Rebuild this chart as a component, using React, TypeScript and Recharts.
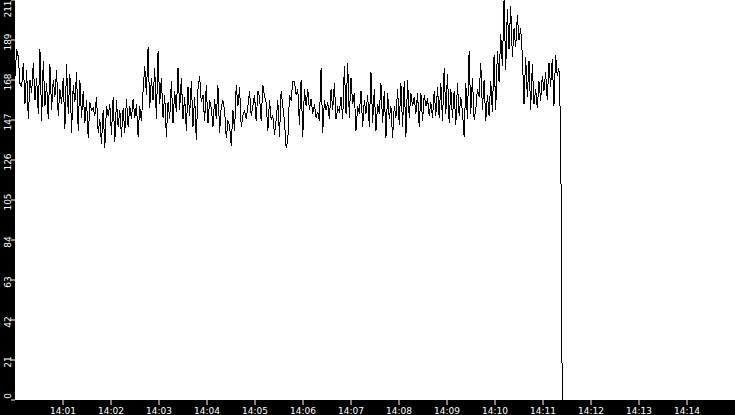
import React from 'react';
import { LineChart, Line, XAxis, YAxis, CartesianGrid } from 'recharts';

// samples, grouped by stretches of roughly two minutes
const trace1400 = [
  171, 185, 181, 167, 165, 178, 156, 174, 148, 169, 162, 178, 158, 170, 151, 185,
  147, 179, 155, 167, 148, 177, 153, 169, 160, 174, 150, 164, 156, 170, 143, 177,
  151, 172, 141, 166, 157, 173, 142, 169, 149, 163, 146, 158, 138, 157, 153, 154,
  150, 160, 141, 148, 135, 153, 133, 155,
];
const trace1402 = [
  150, 156, 140, 160, 136, 158, 144, 153, 139, 154, 141, 159, 144, 155, 148, 159,
  149, 156, 139, 155, 147, 163, 176, 161, 186, 154, 170, 158, 175, 148, 184, 156,
  170, 149, 161, 139, 157, 148, 168, 146, 163, 152, 175, 153, 170, 148, 160, 142,
  165, 150, 168, 144, 160, 137, 164, 171,
];
const trace1404 = [
  157, 161, 147, 166, 146, 158, 154, 144, 159, 148, 166, 141, 155, 158, 153, 138,
  147, 145, 134, 153, 142, 166, 155, 165, 144, 150, 153, 148, 155, 163, 150, 155,
  161, 147, 163, 160, 147, 166, 160, 157, 142, 158, 148, 150, 140, 148, 158, 139,
  163, 155, 147, 133, 137, 161, 158, 168,
];
const trace1406 = [
  168, 161, 164, 145, 169, 139, 164, 155, 164, 153, 159, 151, 156, 149, 152, 147,
  175, 141, 158, 153, 157, 148, 164, 153, 167, 148, 154, 152, 160, 148, 176, 151,
  178, 149, 170, 156, 162, 142, 155, 151, 163, 144, 158, 151, 161, 144, 173, 146,
  164, 142, 156, 151, 167, 146, 163, 138,
];
const trace1408 = [
  162, 148, 155, 138, 155, 149, 164, 145, 167, 144, 168, 139, 169, 149, 162, 155,
  160, 151, 162, 144, 162, 147, 161, 155, 159, 150, 157, 149, 163, 150, 165, 149,
  167, 147, 175, 151, 172, 146, 164, 149, 163, 145, 167, 150, 160, 152, 139, 167,
  148, 184, 151, 170, 148, 153, 164, 160,
];
const trace1410 = [
  178, 153, 169, 147, 161, 150, 168, 152, 182, 153, 184, 168, 193, 176, 211, 174,
  206, 185, 208, 181, 196, 186, 203, 190, 196, 182, 156, 181, 160, 179, 153, 177,
  156, 164, 154, 168, 158, 171, 163, 173, 158, 178, 165, 180, 155, 182, 171, 175,
  144,
];
const traceValues = [...trace1400, ...trace1402, ...trace1404, ...trace1406, ...trace1408, ...trace1410];

// seconds after 14:00 covered by the trace, then the drop to zero
const traceEndSec = 682;
const dropSec = [683, 684];
const dropValues = [86, 0];

const xTicks = [60, 120, 180, 240, 300, 360, 420, 480, 540, 600, 660, 720, 780, 840];
const xLabels = ['14:01', '14:02', '14:03', '14:04', '14:05', '14:06', '14:07', '14:08', '14:09', '14:10', '14:11', '14:12', '14:13', '14:14'];
const yTicks = [0, 21.1, 42.2, 63.3, 84.4, 105.5, 126.6, 147.7, 168.8, 189.9, 211];

const step = traceEndSec / (traceValues.length - 1);
const rows = [
  ...traceValues.map((v, i) => ({ t: i * step, v })),
  ...dropSec.map((t, i) => ({ t, v: dropValues[i] })),
];

const FONT = '"DejaVu Sans", sans-serif';

const XTick = (props: any) => {
  const { x, payload } = props;
  const idx = xTicks.indexOf(payload.value);
  return (
    <text x={x} y={414} fill="#fff" fontSize={9} fontFamily={FONT} textAnchor="middle">
      {xLabels[idx]}
    </text>
  );
};

const YTick = (props: any) => {
  const { y, payload } = props;
  const cy = Math.min(Math.max(y + 2, 9), 396);
  return (
    <text
      x={0}
      y={0}
      transform={`translate(8, ${cy}) rotate(-90)`}
      fill="#fff"
      fontSize={9}
      fontFamily={FONT}
      textAnchor="middle"
      dominantBaseline="central"
    >
      {Math.floor(payload.value)}
    </text>
  );
};

export default function App() {
  return (
    <div style={{ position: 'absolute', left: 0, top: 0, width: 735, height: 415, background: '#000' }}>
      <LineChart width={735} height={415} data={rows} margin={{ top: 0, right: 0, bottom: 0, left: 0 }}>
        <CartesianGrid fill="#fff" horizontal={false} vertical={false} />
        <XAxis
          dataKey="t"
          type="number"
          domain={[0, 900]}
          ticks={xTicks}
          interval={0}
          height={15}
          tickSize={5}
          axisLine={false}
          tickLine={{ stroke: '#fff' }}
          tick={<XTick />}
        />
        <YAxis
          type="number"
          domain={[0, 211]}
          ticks={yTicks}
          interval={0}
          width={15}
          tickSize={4}
          axisLine={false}
          tickLine={{ stroke: '#fff' }}
          tick={<YTick />}
        />
        <Line
          type="linear"
          dataKey="v"
          stroke="#000"
          strokeWidth={1}
          dot={false}
          shapeRendering="crispEdges"
          isAnimationActive={false}
        />
      </LineChart>
    </div>
  );
}
